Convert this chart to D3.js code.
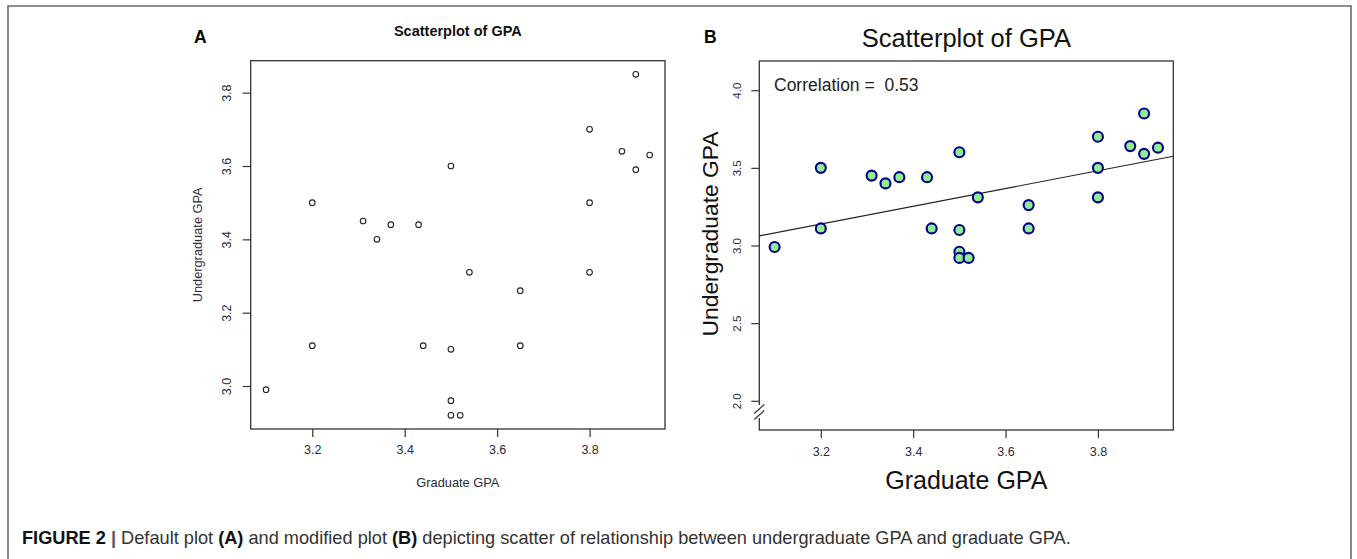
<!DOCTYPE html>
<html>
<head>
<meta charset="utf-8">
<script src="https://cdn.jsdelivr.net/npm/d3@7"></script>
<style>
	body { margin: 0; background: #fff; }
	svg { display: block; font-family: "Liberation Sans", Arial, sans-serif; }
</style>
</head>
<body>
<script>
"use strict"

// values (same 23 students in both panels)
const gradGPA = [3.10, 3.20, 3.20, 3.31, 3.34, 3.37, 3.43, 3.44, 3.50, 3.50, 3.50, 3.50, 3.52,
	3.54, 3.65, 3.65, 3.80, 3.80, 3.80, 3.87, 3.90, 3.90, 3.93];
const undergradGPA = [2.99, 3.50, 3.11, 3.45, 3.40, 3.44, 3.44, 3.11, 3.60, 3.10, 2.96, 2.92, 2.92,
	3.31, 3.26, 3.11, 3.70, 3.50, 3.31, 3.64, 3.85, 3.59, 3.63];

const xTicks = [3.2, 3.4, 3.6, 3.8];
const yTicksA = [3.0, 3.2, 3.4, 3.6, 3.8];
const yTicksB = [2.0, 2.5, 3.0, 3.5, 4.0];
const yLimB = [1.9, 4.1];

const titleText = 'Scatterplot of GPA';
const xLabel = 'Graduate GPA';
const yLabel = 'Undergraduate GPA';
const corrText = 'Correlation =  0.53';

const w = 1357;
const h = 559;

const data = gradGPA.map((g, i) => ({ x: g, y: undergradGPA[i] }));

// R style axis range: limits stretched by 4%
function rRange(lo, hi) {
	const pad = (hi - lo) * 0.04;
	return [lo - pad, hi + pad];
}

const xDomain = rRange(d3.min(gradGPA), d3.max(gradGPA));

const mySvg = d3.select('body')
	.append('svg')
	.attr('width', w)
	.attr('height', h);

mySvg.append('rect')
	.attr('width', w)
	.attr('height', h)
	.attr('fill', '#fff');

// page frame (open at the bottom)
mySvg.append('path')
	.attr('d', 'M8,' + h + 'V6H1351V' + h)
	.attr('fill', 'none')
	.attr('stroke', '#6b6b6b')
	.attr('stroke-width', 1.6);

function drawAxes(g, xScale, yScale, yTicks, opt) {
	const box = { l: xScale.range()[0], r: xScale.range()[1], t: yScale.range()[1], b: yScale.range()[0] };

	const xAxis = d3.axisBottom(xScale)
		.tickValues(xTicks)
		.tickFormat(d3.format('.1f'))
		.tickSize(8)
		.tickPadding(opt.xPad);
	g.append('g')
		.attr('transform', 'translate(0,' + box.b + ')')
		.call(xAxis)
		.call(a => a.select('.domain').remove())
		.call(a => a.selectAll('line').attr('stroke', '#333').attr('stroke-width', 1.2))
		.call(a => a.selectAll('text')
			.attr('fill', '#2b2b3a')
			.style('font-size', opt.xTickSize + 'px')
			.style('font-family', '"Liberation Sans", Arial, sans-serif'));

	const yAxis = d3.axisLeft(yScale)
		.tickValues(yTicks)
		.tickFormat(d3.format('.1f'))
		.tickSize(8);
	g.append('g')
		.attr('transform', 'translate(' + box.l + ',0)')
		.call(yAxis)
		.call(a => a.select('.domain').remove())
		.call(a => a.selectAll('line').attr('stroke', '#333').attr('stroke-width', 1.2))
		.call(a => a.selectAll('text')
			.attr('x', null)
			.attr('dy', '0.35em')
			.attr('text-anchor', 'middle')
			.attr('transform', 'translate(' + (-opt.yTickOff) + ',0) rotate(-90)')
			.attr('fill', '#2b2b3a')
			.style('font-size', opt.yTickSize + 'px')
			.style('font-family', '"Liberation Sans", Arial, sans-serif'));

	g.append('rect')
		.attr('x', box.l)
		.attr('y', box.t)
		.attr('width', box.r - box.l)
		.attr('height', box.b - box.t)
		.attr('fill', 'none')
		.attr('stroke', '#333')
		.attr('stroke-width', 1.3);

	return box;
}

// ---------- panel A : default plot ----------
const xA = d3.scaleLinear().domain(xDomain).range([250.7, 665]);
const yA = d3.scaleLinear().domain(rRange(d3.min(undergradGPA), d3.max(undergradGPA))).range([429, 60.7]);

const panelA = mySvg.append('g');
const boxA = drawAxes(panelA, xA, yA, yTicksA, { xPad: 8, xTickSize: 12.5, yTickSize: 12.5, yTickOff: 24 });

panelA.selectAll('circle')
	.data(data)
	.enter()
	.append('circle')
	.attr('cx', d => xA(d.x))
	.attr('cy', d => yA(d.y))
	.attr('r', 2.8)
	.attr('fill', 'none')
	.attr('stroke', '#222')
	.attr('stroke-width', 1.1);

panelA.append('text')
	.attr('x', 194)
	.attr('y', 43.3)
	.attr('font-size', 17.5)
	.attr('font-weight', 'bold')
	.text('A');

panelA.append('text')
	.attr('x', (boxA.l + boxA.r) / 2)
	.attr('y', 35.5)
	.attr('text-anchor', 'middle')
	.attr('font-size', 14.5)
	.attr('font-weight', 'bold')
	.attr('fill', '#111')
	.text(titleText);

panelA.append('text')
	.attr('x', (boxA.l + boxA.r) / 2)
	.attr('y', 487)
	.attr('text-anchor', 'middle')
	.attr('font-size', 12.8)
	.attr('fill', '#2b2b3a')
	.text(xLabel);

panelA.append('text')
	.attr('transform', 'translate(202,' + ((boxA.t + boxA.b) / 2) + ') rotate(-90)')
	.attr('text-anchor', 'middle')
	.attr('font-size', 12.8)
	.attr('fill', '#2b2b3a')
	.text(yLabel);

// ---------- panel B : modified plot ----------
const xB = d3.scaleLinear().domain(xDomain).range([759.3, 1173.3]);
const yB = d3.scaleLinear().domain(rRange(yLimB[0], yLimB[1])).range([430, 61]);

const panelB = mySvg.append('g');
const boxB = drawAxes(panelB, xB, yB, yTicksB, { xPad: 9, xTickSize: 12.5, yTickSize: 11.5, yTickOff: 22.5 });

// axis break on the y axis (plotrix style "//")
const brk = panelB.append('g').attr('transform', 'translate(' + boxB.l + ',' + (boxB.b - 18) + ')');
brk.append('rect')
	.attr('x', -4)
	.attr('y', -7)
	.attr('width', 8)
	.attr('height', 13)
	.attr('fill', '#fff');
brk.selectAll('line')
	.data([-3, 3])
	.enter()
	.append('line')
	.attr('x1', -5)
	.attr('x2', 5)
	.attr('y1', d => d + 4.5)
	.attr('y2', d => d - 4.5)
	.attr('stroke', '#333')
	.attr('stroke-width', 1.2);

// least squares line
const mx = d3.mean(gradGPA);
const my = d3.mean(undergradGPA);
const slope = d3.sum(data, d => (d.x - mx) * (d.y - my)) / d3.sum(data, d => (d.x - mx) * (d.x - mx));
const icpt = my - slope * mx;

panelB.append('line')
	.attr('x1', xB(xDomain[0]))
	.attr('x2', xB(xDomain[1]))
	.attr('y1', yB(icpt + slope * xDomain[0]))
	.attr('y2', yB(icpt + slope * xDomain[1]))
	.attr('stroke', '#222')
	.attr('stroke-width', 1.2);

panelB.selectAll('circle')
	.data(data)
	.enter()
	.append('circle')
	.attr('cx', d => xB(d.x))
	.attr('cy', d => yB(d.y))
	.attr('r', 5)
	.attr('fill', '#90ee90')
	.attr('stroke', '#00008b')
	.attr('stroke-width', 2.1);

panelB.append('text')
	.attr('x', 704)
	.attr('y', 43.3)
	.attr('font-size', 17.5)
	.attr('font-weight', 'bold')
	.text('B');

panelB.append('text')
	.attr('x', (boxB.l + boxB.r) / 2)
	.attr('y', 46.5)
	.attr('text-anchor', 'middle')
	.attr('font-size', 25.5)
	.attr('fill', '#111')
	.text(titleText);

panelB.append('text')
	.attr('x', 774)
	.attr('y', 91)
	.attr('font-size', 17.5)
	.attr('fill', '#222')
	.style('white-space', 'pre')
	.text(corrText);

panelB.append('text')
	.attr('x', (boxB.l + boxB.r) / 2)
	.attr('y', 489)
	.attr('text-anchor', 'middle')
	.attr('font-size', 25)
	.attr('fill', '#111')
	.text(xLabel);

panelB.append('text')
	.attr('transform', 'translate(718,234) rotate(-90)')
	.attr('text-anchor', 'middle')
	.attr('font-size', 22.8)
	.attr('fill', '#111')
	.text(yLabel);

// ---------- caption ----------
const caption = mySvg.append('text')
	.attr('x', 22)
	.attr('y', 544)
	.attr('font-size', 18.2)
	.attr('fill', '#333')
	.style('white-space', 'pre');

const captionParts = [
	['FIGURE 2 ', true, '#111'], ['| ', true, '#555'], ['Default plot ', false], ['(A)', true, '#111'],
	[' and modified plot ', false], ['(B)', true, '#111'],
	[' depicting scatter of relationship between undergraduate GPA and graduate GPA.', false]
];
caption.selectAll('tspan')
	.data(captionParts)
	.enter()
	.append('tspan')
	.attr('font-weight', d => d[1] ? 'bold' : 'normal')
	.attr('fill', d => d[2] || '#333')
	.text(d => d[0]);
</script>
</body>
</html>
